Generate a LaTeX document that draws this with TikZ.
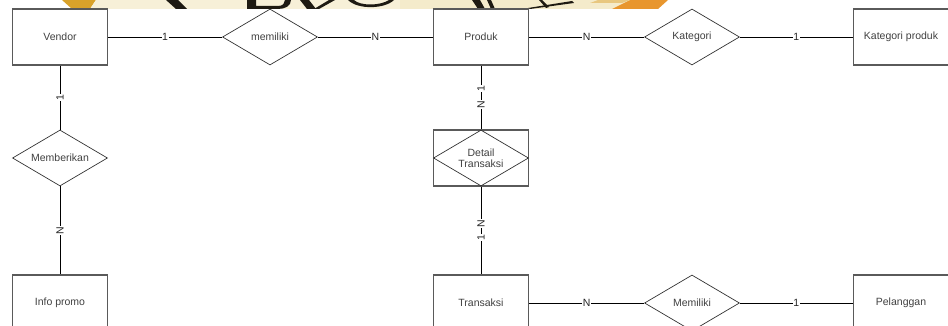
\documentclass[tikz,border=0pt]{standalone}
\usepackage{fontspec}
\setmainfont{Liberation Sans}
\usetikzlibrary{shapes.geometric}
\definecolor{wmcream}{HTML}{F4EBCB}
\definecolor{wmlight}{HTML}{F7F0D8}
\definecolor{wmgold}{HTML}{D9A22A}
\definecolor{wmorange}{HTML}{E8962E}
\definecolor{wmink}{HTML}{1E1A12}
\definecolor{boxgray}{HTML}{5A5A5A}
\begin{document}
\begin{tikzpicture}[x=1pt,y=-1pt,
  txt/.style={font=\fontsize{10.5}{12}\selectfont, text=black!75},
  entity/.style={txt, draw=boxgray, line width=1.3pt, minimum width=95pt,
    minimum height=56pt, inner sep=0pt},
  relation/.style={txt, diamond, draw=black!80, line width=0.7pt,
    minimum width=95pt, minimum height=56pt, inner sep=0pt, aspect=1.7,
    align=center},
  link/.style={line width=0.8pt},
  card/.style={txt, fill=white, inner sep=0.6pt, text=black!85},
  vcard/.style={card, rotate=90},
  ink/.style={fill=wmink}]
\useasboundingbox (0,0) rectangle (948,326);
\clip (0,0) rectangle (948,326);

% faded emblem strip along the top edge (only its lowest 9pt show)
\fill[wmgold]   (62,0) -- (96,0) -- (90,9) -- (72,9) -- cycle;
\fill[wmlight]  (96,0) -- (630,0) -- (612,9) -- (90,9) -- cycle;
\fill[wmcream]  (400,0) -- (630,0) -- (612,9) -- (400,9) -- cycle;
\fill[wmorange] (630,0) -- (668,0) -- (658,9) -- (612,9) -- cycle;
\fill[wmgold!60] (598,0) -- (630,0) -- (622,3) -- (590,3) -- cycle;
% lower parts of the large lettering
\fill[ink] (166,0) -- (178,0) -- (187,9) -- (176,9) -- cycle;
\fill[ink] (247,0) -- (256,0) -- (256,6) -- (278,6)
  .. controls (283,6) and (285,3) .. (285,0) -- (291,0)
  .. controls (291,6) and (285,9) .. (278,9) -- (247,9) -- cycle;
\fill[ink] (300,0) -- (309,0) -- (316,9) -- (307,9) -- cycle;
\fill[ink] (314,9) -- (329,0) -- (335,0) -- (319,9) -- cycle;
\fill[ink] (348,0) -- (354,0) .. controls (360,6) and (380,6) .. (389,0)
  -- (394,0) .. controls (385,9) and (358,10) .. (348,0) -- cycle;
\fill[ink] (472,0) -- (480,0) -- (485,9) -- (478,9) -- cycle;
\fill[ink] (487,0) -- (491,0) -- (495,9) -- (491,9) -- cycle;
\fill[ink] (528,8) -- (572,1) -- (574,3) -- (530,9) -- cycle;
\fill[ink] (539,0) -- (542,0) -- (549,7) -- (546,8) -- cycle;

% entities
\node[entity] (vendor)    at (60,37)  {Vendor};
\node[entity] (produk)    at (481,37) {Produk};
\node[entity] (katprod)   at (901,37) {Kategori produk};
\node[entity] (promo)     at (60,303) {Info promo};
\node[entity] (trans)     at (481,303) {Transaksi};
\node[entity] (pelanggan) at (901,303) {Pelanggan};

% relationships
\node[relation] (memiliki)   at (270,37)  {memiliki};
\node[relation] (kategori)   at (692,37)  {Kategori};
\node[relation] (memberikan) at (60,158)  {Memberikan};
\node[relation] (memiliki2)  at (692,303) {Memiliki};
\node[entity] (detailbox) at (481,158) {};
\node[relation] (detail) at (481,158) {Detail\\[-1pt]Transaksi};

% connectors with cardinalities
\draw[link] (vendor) -- node[card] {1} (memiliki);
\draw[link] (memiliki) -- node[card] {N} (produk);
\draw[link] (produk) -- node[card] {N} (kategori);
\draw[link] (kategori) -- node[card] {1} (katprod);
\draw[link] (vendor) -- node[vcard] {1} (memberikan);
\draw[link] (memberikan) -- node[vcard] {N} (promo);
\draw[link] (produk) -- node[vcard, pos=0.36] {1} node[vcard, pos=0.61] {N} (detailbox);
\draw[link] (detailbox) -- node[vcard, pos=0.42] {N} node[vcard, pos=0.58] {1} (trans);
\draw[link] (trans) -- node[card] {N} (memiliki2);
\draw[link] (memiliki2) -- node[card] {1} (pelanggan);
\end{tikzpicture}
\end{document}
